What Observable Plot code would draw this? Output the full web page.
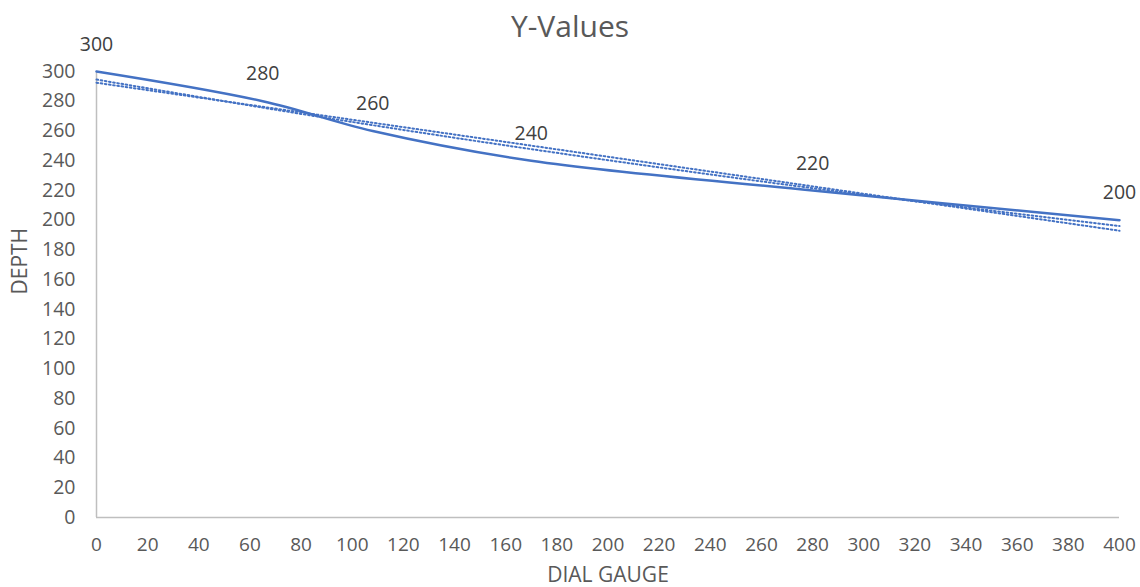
<!DOCTYPE html>
<html>
<head>
<meta charset="utf-8">
<script src="https://cdn.jsdelivr.net/npm/d3@7"></script>
<script src="https://cdn.jsdelivr.net/npm/@observablehq/plot@0.6"></script>
<style>
  html, body { margin: 0; padding: 0; background: #fff; overflow: hidden; }
  #title { height: 50px; line-height: 52px; text-align: center; font-family: "Open Sans", sans-serif; font-size: 30px; color: #595959; width: 1140px; }
  svg { display: block; overflow: visible; }
</style>
</head>
<body>
<div id="title">Y-Values</div>
<div id="chart"></div>
<script>
const dialGauge = [0, 65, 108, 170, 280, 400];
const depth = [300, 280, 260, 240, 220, 200];
const xTicks = d3.range(0, 401, 20);
const yTicks = d3.range(0, 301, 20);

const data = dialGauge.map((x, i) => ({x, y: depth[i]}));

// exponential trendline fitted to the data (least squares on ln y)
const lnY = depth.map(Math.log);
const mx = d3.mean(dialGauge), my = d3.mean(lnY);
const b = d3.sum(dialGauge, (x, i) => (x - mx) * (lnY[i] - my)) / d3.sum(dialGauge, x => (x - mx) ** 2);
const a = Math.exp(my - b * mx);
const expFit = dialGauge.map(x => ({x, y: a * Math.exp(b * x)}));

const color = "#4472C4";
const font = "Open Sans, sans-serif";

const chart = Plot.plot({
  width: 1140,
  height: 537,
  marginTop: 21,
  marginBottom: 70,
  marginLeft: 96,
  marginRight: 21,
  style: {fontFamily: font, background: "transparent", overflow: "visible"},
  x: {domain: [0, 400]},
  y: {domain: [0, 300]},
  marks: [
    Plot.ruleY([0], {stroke: "#bfbfbf", strokeWidth: 1.5}),
    Plot.ruleX([0], {stroke: "#bfbfbf", strokeWidth: 1.5}),
    Plot.axisX({ticks: xTicks, tickSize: 0, tickPadding: 20, fontSize: 19, fill: "#595959", label: null}),
    Plot.axisY({ticks: yTicks, tickSize: 0, tickPadding: 21, fontSize: 19.5, fill: "#595959", label: null}),
    Plot.linearRegressionY(data, {x: "x", y: "y", ci: 0, stroke: color, strokeWidth: 2, strokeDasharray: "1.6,2.6"}),
    Plot.line(expFit, {x: "x", y: "y", curve: "natural", stroke: color, strokeWidth: 2, strokeDasharray: "1.6,2.6"}),
    Plot.line(data, {x: "x", y: "y", curve: "catmull-rom", stroke: color, strokeWidth: 2.5}),
    Plot.text(data, {x: "x", y: "y", text: d => String(d.y), dy: -27, fontSize: 19.5, fill: "#404040"}),
    Plot.text(["DIAL GAUGE"], {frameAnchor: "bottom", dy: 64, fontSize: 21, fill: "#595959"}),
    Plot.text(["DEPTH"], {frameAnchor: "left", dx: -76, rotate: -90, fontSize: 21, fill: "#595959"})
  ]
});
document.getElementById("chart").appendChild(chart);
</script>
</body>
</html>
